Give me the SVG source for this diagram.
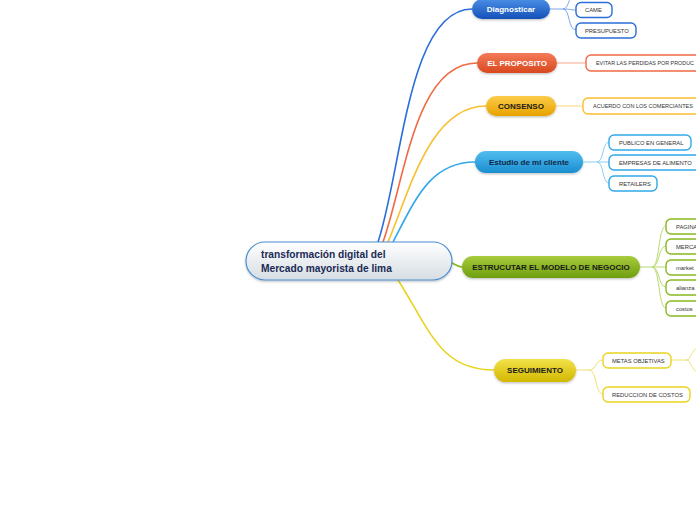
<svg xmlns="http://www.w3.org/2000/svg" width="696" height="520" viewBox="0 0 696 520">
<defs>
<linearGradient id="gC" x1="0" y1="0" x2="0" y2="1"><stop offset="0" stop-color="#ffffff"/><stop offset="1" stop-color="#d6dde3"/></linearGradient>
<linearGradient id="gBlue" x1="0" y1="0" x2="0" y2="1"><stop offset="0" stop-color="#4a8fe6"/><stop offset="1" stop-color="#1550b8"/></linearGradient>
<linearGradient id="gRed" x1="0" y1="0" x2="0" y2="1"><stop offset="0" stop-color="#f47a5a"/><stop offset="1" stop-color="#d8481e"/></linearGradient>
<linearGradient id="gGold" x1="0" y1="0" x2="0" y2="1"><stop offset="0" stop-color="#fbcc4a"/><stop offset="1" stop-color="#e8a200"/></linearGradient>
<linearGradient id="gCyan" x1="0" y1="0" x2="0" y2="1"><stop offset="0" stop-color="#52bdf0"/><stop offset="1" stop-color="#1a8ed0"/></linearGradient>
<linearGradient id="gGreen" x1="0" y1="0" x2="0" y2="1"><stop offset="0" stop-color="#a8cc3c"/><stop offset="1" stop-color="#6e9e10"/></linearGradient>
<linearGradient id="gYel" x1="0" y1="0" x2="0" y2="1"><stop offset="0" stop-color="#f2e24a"/><stop offset="1" stop-color="#d2b800"/></linearGradient>
<filter id="sh" x="-10%" y="-20%" width="120%" height="160%"><feDropShadow dx="0" dy="1.2" stdDeviation="1" flood-color="#000" flood-opacity="0.25"/></filter>
</defs>
<style>
.main{font-family:"Liberation Sans",Arial,sans-serif;font-weight:bold;font-size:8px;text-anchor:middle;dominant-baseline:central}
.sub{font-family:"Liberation Sans",Arial,sans-serif;font-size:5.8px;fill:#333;dominant-baseline:central}
.box{fill:#fff;stroke-width:1.4}
.conn{fill:none;stroke-width:1.6}
.thin{fill:none;stroke-width:1}
</style>
<rect width="696" height="520" fill="#ffffff"/>
<g id="connectors">
<path class="conn" stroke="#2a6ed8" d="M378,242 C402,170 408,9 472,9"/>
<path class="conn" stroke="#f06a44" d="M383,242 C405,180 415,63 477,63"/>
<path class="conn" stroke="#f8c030" d="M388,242 C410,190 430,106 486,106"/>
<path class="conn" stroke="#30a8e8" d="M393,242 C415,200 430,162 475,162"/>
<path class="conn" stroke="#88b820" d="M450,262 C455,264 458,267 462,267"/>
<path class="conn" stroke="#e8d420" d="M398,280 C430,330 440,370 494,370"/>
<path class="thin" stroke="#7aa6ea" d="M550,9 L563,9 C570,9 568,-8 578,-8 M563,9 C570,9 570,10 576,10 M563,9 C570,9 568,30 576,30"/>
<path class="thin" stroke="#f7a58e" d="M557,63 L586,63"/>
<path class="thin" stroke="#fbd67a" d="M556,106 L583,106"/>
<path class="thin" stroke="#8ad0f0" d="M583,162 L597,162 C604,162 602,142 609,142 M597,162 L609,162 M597,162 C604,162 602,183 609,183"/>
<path class="thin" stroke="#b8d870" d="M640,267 L652,267 C660,267 658,226 666,226 M652,267 C660,267 658,246 666,246 M652,267 L666,267 M652,267 C660,267 658,287 666,287 M652,267 C660,267 658,308 666,308"/>
<path class="thin" stroke="#f0e070" d="M576,370 L589,370 C597,370 595,360 603,360 M589,370 C597,370 595,394 603,394"/>
<path class="thin" stroke="#f0e070" d="M671,360 L686,360 C692,360 690,350 698,348 M686,360 C692,360 690,370 698,372"/>
</g>
<g id="center">
<rect x="246" y="242" width="206" height="38" rx="19" fill="url(#gC)" stroke="#4a90d0" stroke-width="1.2" filter="url(#sh)"/>
<text x="261" y="258" font-family="Liberation Sans,Arial,sans-serif" font-weight="bold" font-size="10.2" fill="#1a2a55">transformación digital del</text>
<text x="261" y="272" font-family="Liberation Sans,Arial,sans-serif" font-weight="bold" font-size="10.2" fill="#1a2a55">Mercado mayorista de lima</text>
</g>
<g id="diagnosticar">
<rect x="472" y="-1" width="78" height="20" rx="10" fill="url(#gBlue)" filter="url(#sh)"/>
<text class="main" x="511" y="9" fill="#fff" font-size="8.5">Diagnosticar</text>
</g>
<g id="came"><rect class="box" stroke="#2a6ed8" x="576" y="2.5" width="36" height="15" rx="5"/><text class="sub" x="585" y="10">CAME</text></g>
<g id="presupuesto"><rect class="box" stroke="#2a6ed8" x="576" y="23" width="60" height="15" rx="5"/><text class="sub" x="585" y="30.5">PRESUPUESTO</text></g>
<g id="proposito">
<rect x="477" y="53" width="80" height="20" rx="10" fill="url(#gRed)" filter="url(#sh)"/>
<text class="main" x="517" y="63" fill="#fff">EL PROPOSITO</text>
</g>
<g id="evitar"><rect class="box" stroke="#f06a44" x="586" y="55" width="130" height="16" rx="5"/><text class="sub" x="596" y="63" textLength="98" lengthAdjust="spacingAndGlyphs">EVITAR LAS PERDIDAS POR PRODUC</text></g>
<g id="consenso">
<rect x="486" y="96" width="70" height="20" rx="10" fill="url(#gGold)" filter="url(#sh)"/>
<text class="main" x="521" y="106" fill="#1a1a1a">CONSENSO</text>
</g>
<g id="acuerdo"><rect class="box" stroke="#f8c030" x="583" y="98" width="130" height="16" rx="5"/><text class="sub" x="593" y="106" textLength="100" lengthAdjust="spacingAndGlyphs">ACUERDO CON LOS COMERCIANTES</text></g>
<g id="estudio">
<rect x="475" y="151" width="108" height="22" rx="11" fill="url(#gCyan)" filter="url(#sh)"/>
<text class="main" x="529" y="162" fill="#10284a">Estudio de mi cliente</text>
</g>
<g id="publico"><rect class="box" stroke="#30a8e8" x="609" y="135" width="82" height="15" rx="5"/><text class="sub" x="619" y="142.5">PUBLICO EN GENERAL</text></g>
<g id="empresas"><rect class="box" stroke="#30a8e8" x="609" y="155" width="92" height="15" rx="5"/><text class="sub" x="619" y="162.5">EMPRESAS DE ALIMENTO</text></g>
<g id="retailers"><rect class="box" stroke="#30a8e8" x="609" y="176" width="48" height="15" rx="5"/><text class="sub" x="619" y="183.5">RETAILERS</text></g>
<g id="estructurar">
<rect x="462" y="256" width="178" height="22" rx="11" fill="url(#gGreen)" filter="url(#sh)"/>
<text class="main" x="551" y="267" fill="#1a1a1a" font-size="7.6">ESTRUCUTAR EL MODELO DE NEGOCIO</text>
</g>
<g id="pagina"><rect class="box" stroke="#88b820" x="666" y="219" width="50" height="15" rx="5"/><text class="sub" x="676" y="226.5">PAGINA</text></g>
<g id="merca"><rect class="box" stroke="#88b820" x="666" y="239" width="50" height="15" rx="5"/><text class="sub" x="676" y="246.5">MERCA</text></g>
<g id="market"><rect class="box" stroke="#88b820" x="666" y="260" width="50" height="15" rx="5"/><text class="sub" x="676" y="267.5">market</text></g>
<g id="alianza"><rect class="box" stroke="#88b820" x="666" y="280" width="50" height="15" rx="5"/><text class="sub" x="676" y="287.5">alianza</text></g>
<g id="costos"><rect class="box" stroke="#88b820" x="666" y="301" width="50" height="15" rx="5"/><text class="sub" x="676" y="308.5">costos</text></g>
<g id="seguimiento">
<rect x="494" y="359" width="82" height="23" rx="11.5" fill="url(#gYel)" filter="url(#sh)"/>
<text class="main" x="535" y="370.5" fill="#1a1a1a">SEGUIMIENTO</text>
</g>
<g id="metas"><rect class="box" stroke="#e8d420" x="603" y="353" width="68" height="15" rx="5"/><text class="sub" x="612" y="360.5">METAS OBJETIVAS</text></g>
<g id="reduccion"><rect class="box" stroke="#e8d420" x="603" y="387" width="87" height="15" rx="5"/><text class="sub" x="612" y="394.5">REDUCCION DE COSTOS</text></g>
</svg>
